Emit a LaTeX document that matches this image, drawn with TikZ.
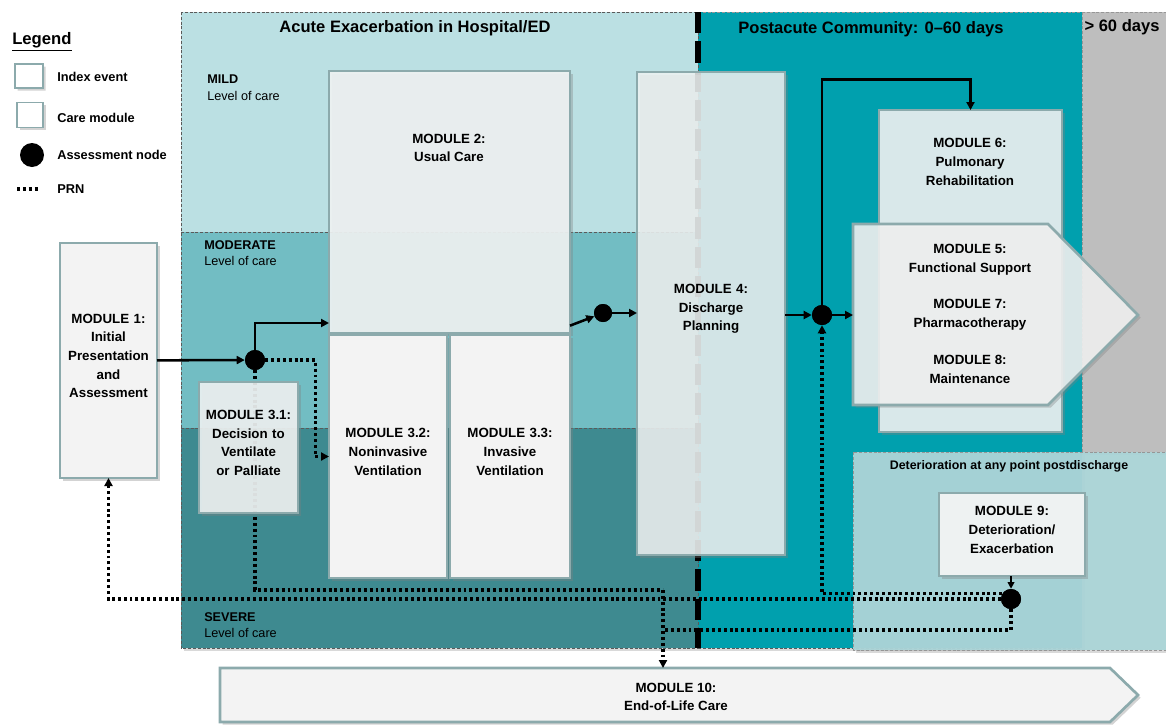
\documentclass[tikz,border=0pt]{standalone}
\usepackage{fontspec}
\setmainfont{Liberation Sans}
\usetikzlibrary{arrows.meta,shadows,fit,calc,shapes.misc}

\definecolor{mildc}{RGB}{187,224,227}
\definecolor{modc}{RGB}{114,189,195}
\definecolor{sevc}{RGB}{62,138,144}
\definecolor{postc}{RGB}{0,160,174}
\definecolor{latec}{RGB}{190,190,190}
\definecolor{detc}{RGB}{171,213,216}
\definecolor{edgec}{RGB}{140,170,172}
\definecolor{boxc}{RGB}{243,243,243}
\definecolor{paleboxc}{RGB}{238,242,242}
\definecolor{rehabc}{RGB}{217,232,234}
\definecolor{zonec}{RGB}{90,90,90}
\definecolor{lightzonec}{RGB}{150,150,150}

\tikzset{
  zone/.style={draw=zonec, line width=0.6pt, dash pattern=on 2.2pt off 1.4pt},
  lightzone/.style={draw=lightzonec, line width=0.6pt, dash pattern=on 2.2pt off 1.4pt},
  modshadow/.style={drop shadow={shadow xshift=2pt, shadow yshift=-2pt, opacity=0.35}},
  modbox/.style={draw=edgec, line width=2pt, fill=boxc, modshadow},
  modtext/.style={align=center, font=\bfseries\fontsize{10}{14}\selectfont},
  fitbox/.style={inner sep=0pt, outer sep=0pt},
  assess/.style={circle, fill=black, inner sep=0pt, minimum size=15pt},
  tip/.style={-{Triangle[length=6pt,width=6pt]}},
  flow/.style={line width=1.9pt, tip},
  prnline/.style={line width=2.3pt, dash pattern=on 2.2pt off 2.2pt},
  prn/.style={prnline, tip},
  divider/.style={line width=3.8pt, dash pattern=on 16pt off 6pt},
  hdr/.style={font=\bfseries\fontsize{12.4}{14}\selectfont},
  lvl/.style={align=left, anchor=north west, inner sep=0pt, font=\fontsize{9.5}{12.5}\selectfont},
  legtext/.style={anchor=west, inner sep=0pt, font=\bfseries\fontsize{9.6}{11}\selectfont},
}

\begin{document}
\begin{tikzpicture}[x=0.75pt,y=-0.75pt]
\useasboundingbox (0,0) rectangle (1166,725);

% ---- care setting zones ----
\path[drop shadow={shadow xshift=2pt, shadow yshift=-2pt, opacity=0.3}] (181,12) rectangle (1082,648);
\fill[mildc] (181,12) rectangle (698,232);
\fill[modc] (181,232) rectangle (698,428);
\fill[sevc] (181,428) rectangle (698,648);
\fill[postc] (698,12) rectangle (1082,648);
\fill[latec] (1082,12) rectangle (1166,455);
\draw[zone] (181,12) rectangle (698,648);
\draw[zone] (181,232) -- (698,232);
\draw[zone] (181,428) -- (698,428);
\draw[lightzone] (698,12) -- (1166,12);
\draw[lightzone] (1082,12) -- (1082,455);
\draw[zone] (698,648) -- (1082,648);

% deterioration area
\path[fill=detc, lightzone, fill opacity=0.95, drop shadow={shadow xshift=2pt, shadow yshift=-2pt, opacity=0.3}] (853,452) rectangle (1166,650);
\node[font=\bfseries\fontsize{9.3}{10}\selectfont] (dettitle) at (1009,466) {Deterioration at any point postdischarge};

% hospital / community boundary
\draw[divider] (698,12) -- (698,648);

% ---- headings ----
\node[hdr] (hacute) at (415,28) {Acute Exacerbation in Hospital/ED};
\node[hdr] (hpost) at (871,29) {Postacute Community: 0--60 days};
\node[hdr] (hlate) at (1122,27) {> 60 days};

\node[lvl] (lmild) at (207,75) {\textbf{MILD}\\Level of care};
\node[lvl] (lmod) at (204,240) {\textbf{MODERATE}\\Level of care};
\node[lvl] (lsev) at (204,612) {\textbf{SEVERE}\\Level of care};

% ---- legend ----
\node[anchor=west, inner sep=0pt, font=\bfseries\fontsize{12.5}{14}\selectfont] (legtitle) at (12,42) {\underline{Legend}};
\node[chamfered rectangle, chamfered rectangle xsep=3pt, chamfered rectangle ysep=3pt,
      draw=edgec, line width=1.2pt, fill=white, modshadow,
      minimum width=21pt, minimum height=18pt, inner sep=0pt] (legidx) at (29,76) {};
\node[legtext] (legidxt) at (57,77) {Index event};
\node[draw=edgec, line width=1.2pt, fill=white, modshadow, minimum width=19.5pt, minimum height=19pt, inner sep=0pt] (legmod) at (30,115) {};
\node[legtext] (legmodt) at (57,118) {Care module};
\node[assess, minimum size=18pt] (legnode) at (32,155) {};
\node[legtext] (legnodet) at (57,155) {Assessment node};
\coordinate (legprnA) at (17,189);
\coordinate (legprnB) at (38,189);
\draw[prnline] (legprnA) -- (legprnB);
\node[legtext] (legprnt) at (57,189) {PRN};

% ---- assessment nodes ----
\node[assess] (A) at (255,360) {};
\node[assess, minimum size=13.5pt] (C) at (603,313) {};
\node[assess] (B) at (822,315) {};
\node[assess] (n9) at (1011,599) {};

% ---- module 10 (end-of-life), drawn as an arrow band ----
\draw[modbox] (220,668) -- (1110,668) -- (1138,695) -- (1110,722) -- (220,722) -- cycle;
\node[fitbox, fit={(220,668) (1110,722)}] (m10) {};
\node[modtext] (m10t) at (676,697) {MODULE 10:\\End-of-Life Care};

% PRN routes passing behind the modules
\coordinate (j1) at (663,590);
\coordinate (j2) at (663,630);
\draw[prnline] (A.south) |- (j1);
\draw[prn] (j1) -- (j1 |- m10.north);
\draw[prnline] (n9.south) |- (j2);

% ---- hospital modules ----
\node[modbox, fitbox, fit={(60,243) (157,478)}, modtext] (m1) {MODULE 1:\\Initial\\Presentation\\and\\Assessment};
\node[modbox, fitbox, fit={(329,71) (570,333)}, fill=paleboxc, fill opacity=0.92] (m2) {};
\node[modtext] (m2t) at (449,148) {MODULE 2:\\Usual Care};
\node[modbox, fitbox, fit={(329,335) (447,578)}, modtext] (m32) {MODULE 3.2:\\Noninvasive\\Ventilation};
\node[modbox, fitbox, fit={(450,335) (570,578)}, modtext] (m33) {MODULE 3.3:\\Invasive\\Ventilation};
\node[modbox, fitbox, fit={(199,382) (298,513)}, fill=paleboxc, fill opacity=0.9, text opacity=1, modtext] (m31) {MODULE 3.1:\\Decision to\\Ventilate\\or Palliate};
\node[modbox, fitbox, fit={(637,72) (785,555)}, fill=paleboxc, fill opacity=0.86, text opacity=1, modtext] (m4) {MODULE 4:\\Discharge\\Planning};

% ---- community modules ----
\node[modbox, fitbox, fit={(879,110) (1062,432)}, fill=rehabc] (m6) {};
\node[modtext] (m6t) at (970,162) {MODULE 6:\\Pulmonary\\Rehabilitation};
\draw[modbox, fill=boxc, fill opacity=0.88] (853,224) -- (1048,224) -- (1138,315) -- (1048,405) -- (853,405) -- cycle;
\node[fitbox, fit={(853,224) (1048,405)}] (m5) {};
\node[modtext] (m5t) at (970,259.5) {MODULE 5:\\Functional Support};
\node[modtext] (m7t) at (970,314.5) {MODULE 7:\\Pharmacotherapy};
\node[modtext] (m8t) at (970,369.5) {MODULE 8:\\Maintenance};
\node[modbox, fitbox, fit={(939,493) (1085,576)}, fill=paleboxc, modtext] (m9) {MODULE 9:\\Deterioration/\\Exacerbation};

% ---- PRN routes ----
\draw[prn] (n9.west) -| (m1.south);
\draw[prn] (A.east) -- ++(50,0) |- (m32.west);
\draw[prn] (n9.150) -| (B.south);

% ---- main flow ----
\draw[flow] (m1) -- (A);
\draw[flow] (A.north) |- ([yshift=7.5pt]m2.south west);
\draw[flow] ([yshift=7pt]m33.north east) -- (C);
\draw[flow] (C) -- (C -| m4.west);
\draw[flow] (B -| m4.east) -- (B);
\draw[flow] (B) -- (B -| m5.west);
\draw[flow] (B.north) -- ++(0,-225) -| (m6.north);
\draw[line width=1.6pt, -{Triangle[length=5pt,width=5pt]}] (m9.south -| n9) -- (n9.north);

% nodes on top of their connectors
\node[assess] at (A) {};
\node[assess, minimum size=13.5pt] at (C) {};
\node[assess] at (B) {};
\node[assess] at (n9) {};
\end{tikzpicture}
\end{document}
